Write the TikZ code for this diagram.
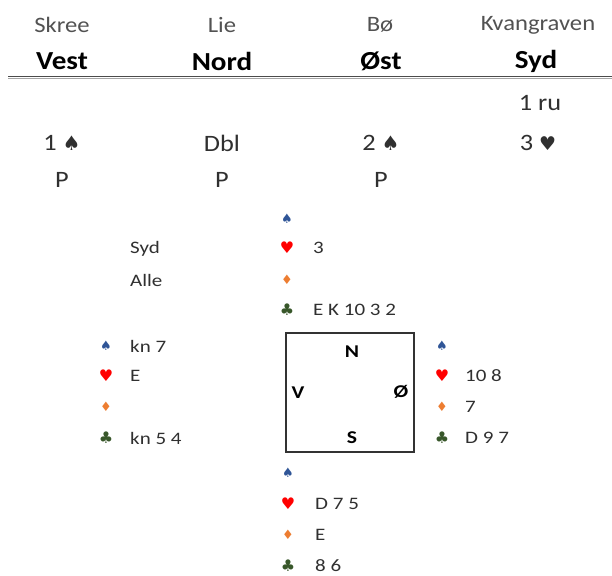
\documentclass[tikz,border=0pt]{standalone}
\usepackage{fontspec}
\setmainfont{Carlito}[FakeStretch=1.12]
\newfontfamily\cardfont{Carlito}[FakeStretch=1.2]
\newfontfamily\suitfont{DejaVu Sans}
\definecolor{spadeblue}{HTML}{2F5597}
\definecolor{heartred}{HTML}{FF0000}
\definecolor{diamorange}{HTML}{ED7D31}
\definecolor{clubgreen}{HTML}{38572A}
\definecolor{txt}{HTML}{303030}
\newcommand\bidspade{{\suitfont\fontsize{20}{20}\selectfont ♠}}
\newcommand\bidheart{{\suitfont\fontsize{19}{19}\selectfont ♥}}
\tikzset{
  pname/.style={font=\fontsize{22}{22}\selectfont, text=black!68, inner sep=0pt},
  seat/.style={font=\fontsize{26}{26}\selectfont\bfseries, text=black, inner sep=0pt},
  bidtxt/.style={font=\fontsize{23.5}{23.5}\selectfont, text=txt, inner sep=0pt},
  card/.style={anchor=west, font=\cardfont\fontsize{17.5}{17.5}\selectfont, text=txt, inner sep=0pt},
  suit/.style={inner sep=0pt},
  sp/.style={suit, font=\suitfont\fontsize{13}{13}\selectfont, text=spadeblue},
  he/.style={suit, font=\suitfont\fontsize{16}{16}\selectfont, text=heartred},
  di/.style={suit, font=\suitfont\fontsize{13}{13}\selectfont, text=diamorange},
  cl/.style={suit, font=\suitfont\fontsize{16}{16}\selectfont, text=clubgreen},
  compass/.style={font=\cardfont\fontsize{18}{18}\selectfont\bfseries, text=black, inner sep=0pt},
  boxline/.style={draw=black!80, line width=1.4pt}
}
\begin{document}
\begin{tikzpicture}[x=1pt,y=-1pt]
\useasboundingbox[fill=white] (0,0) rectangle (612,575);
% header
\node[pname] (n1) at (62,25) {Skree};
\node[pname] (n2) at (222,25) {Lie};
\node[pname] (n3) at (380,25) {Bø};
\node[pname] (n4) at (538,25) {Kvangraven};
\node[seat] (s1) at (62,61) {Vest};
\node[seat] (s2) at (222,61) {Nord};
\node[seat] (s3) at (381,61) {Øst};
\node[seat] (s4) at (536,61) {Syd};
\coordinate (la) at (8,76.5);
\coordinate (lb) at (612,76.5);
\coordinate (lc) at (8,78.5);
\coordinate (ld) at (612,78.5);
\draw[black!70, line width=1.6pt] (la) -- (lb);
\draw[black!35, line width=1.2pt] (lc) -- (ld);
% bidding
\node[bidtxt] (b0) at (540,103) {1 ru};
\node[bidtxt] (b1) at (62,143) {1 \bidspade};
\node[bidtxt] (b2) at (222,143) {Dbl};
\node[bidtxt] (b3) at (381,143) {2 \bidspade};
\node[bidtxt] (b4) at (538,143) {3 \bidheart};
\node[bidtxt] (b5) at (62,180) {P};
\node[bidtxt] (b6) at (222,180) {P};
\node[bidtxt] (b7) at (381,180) {P};
% dealer / vulnerability
\node[card] (dl) at (130,249) {Syd};
\node[card] (vu) at (130,280) {Alle};
% north
\node[sp] (ns) at (287,219) {♠};
\node[he] (nh) at (287,248) {♥};
\node[di] (nd) at (287,280) {♦};
\node[cl] (nc) at (287,310) {♣};
\node[card] (nht) at (313,248) {3};
\node[card] (nct) at (313,310) {E K 10 3 2};
% west
\node[sp] (ws) at (106,346) {♠};
\node[he] (wh) at (106,376) {♥};
\node[di] (wd) at (106,407) {♦};
\node[cl] (wc) at (106,438) {♣};
\node[card] (wst) at (130,346) {kn 7};
\node[card] (wht) at (130,376) {E};
\node[card] (wct) at (130,438) {kn 5 4};
% east
\node[sp] (es) at (442,346) {♠};
\node[he] (eh) at (442,376) {♥};
\node[di] (ed) at (442,407) {♦};
\node[cl] (ec) at (442,438) {♣};
\node[card] (eht) at (465,376) {10 8};
\node[card] (edt) at (465,407) {7};
\node[card] (ect) at (465,438) {D 9 7};
% south
\node[sp] (ss) at (288,473) {♠};
\node[he] (sh) at (288,504) {♥};
\node[di] (sd) at (288,535) {♦};
\node[cl] (sc) at (288,566) {♣};
\node[card] (sht) at (315,504) {D 7 5};
\node[card] (sdt) at (315,535) {E};
\node[card] (sct) at (315,566) {8 6};
% compass box
\node[boxline, minimum width=128pt, minimum height=119pt, inner sep=0pt] (box) at (350,392.5) {};
\node[compass] (cn) at (352,352) {N};
\node[compass] (cv) at (298,393) {V};
\node[compass] (ce) at (401,392) {Ø};
\node[compass] (cs) at (352,438) {S};
\end{tikzpicture}
\end{document}
